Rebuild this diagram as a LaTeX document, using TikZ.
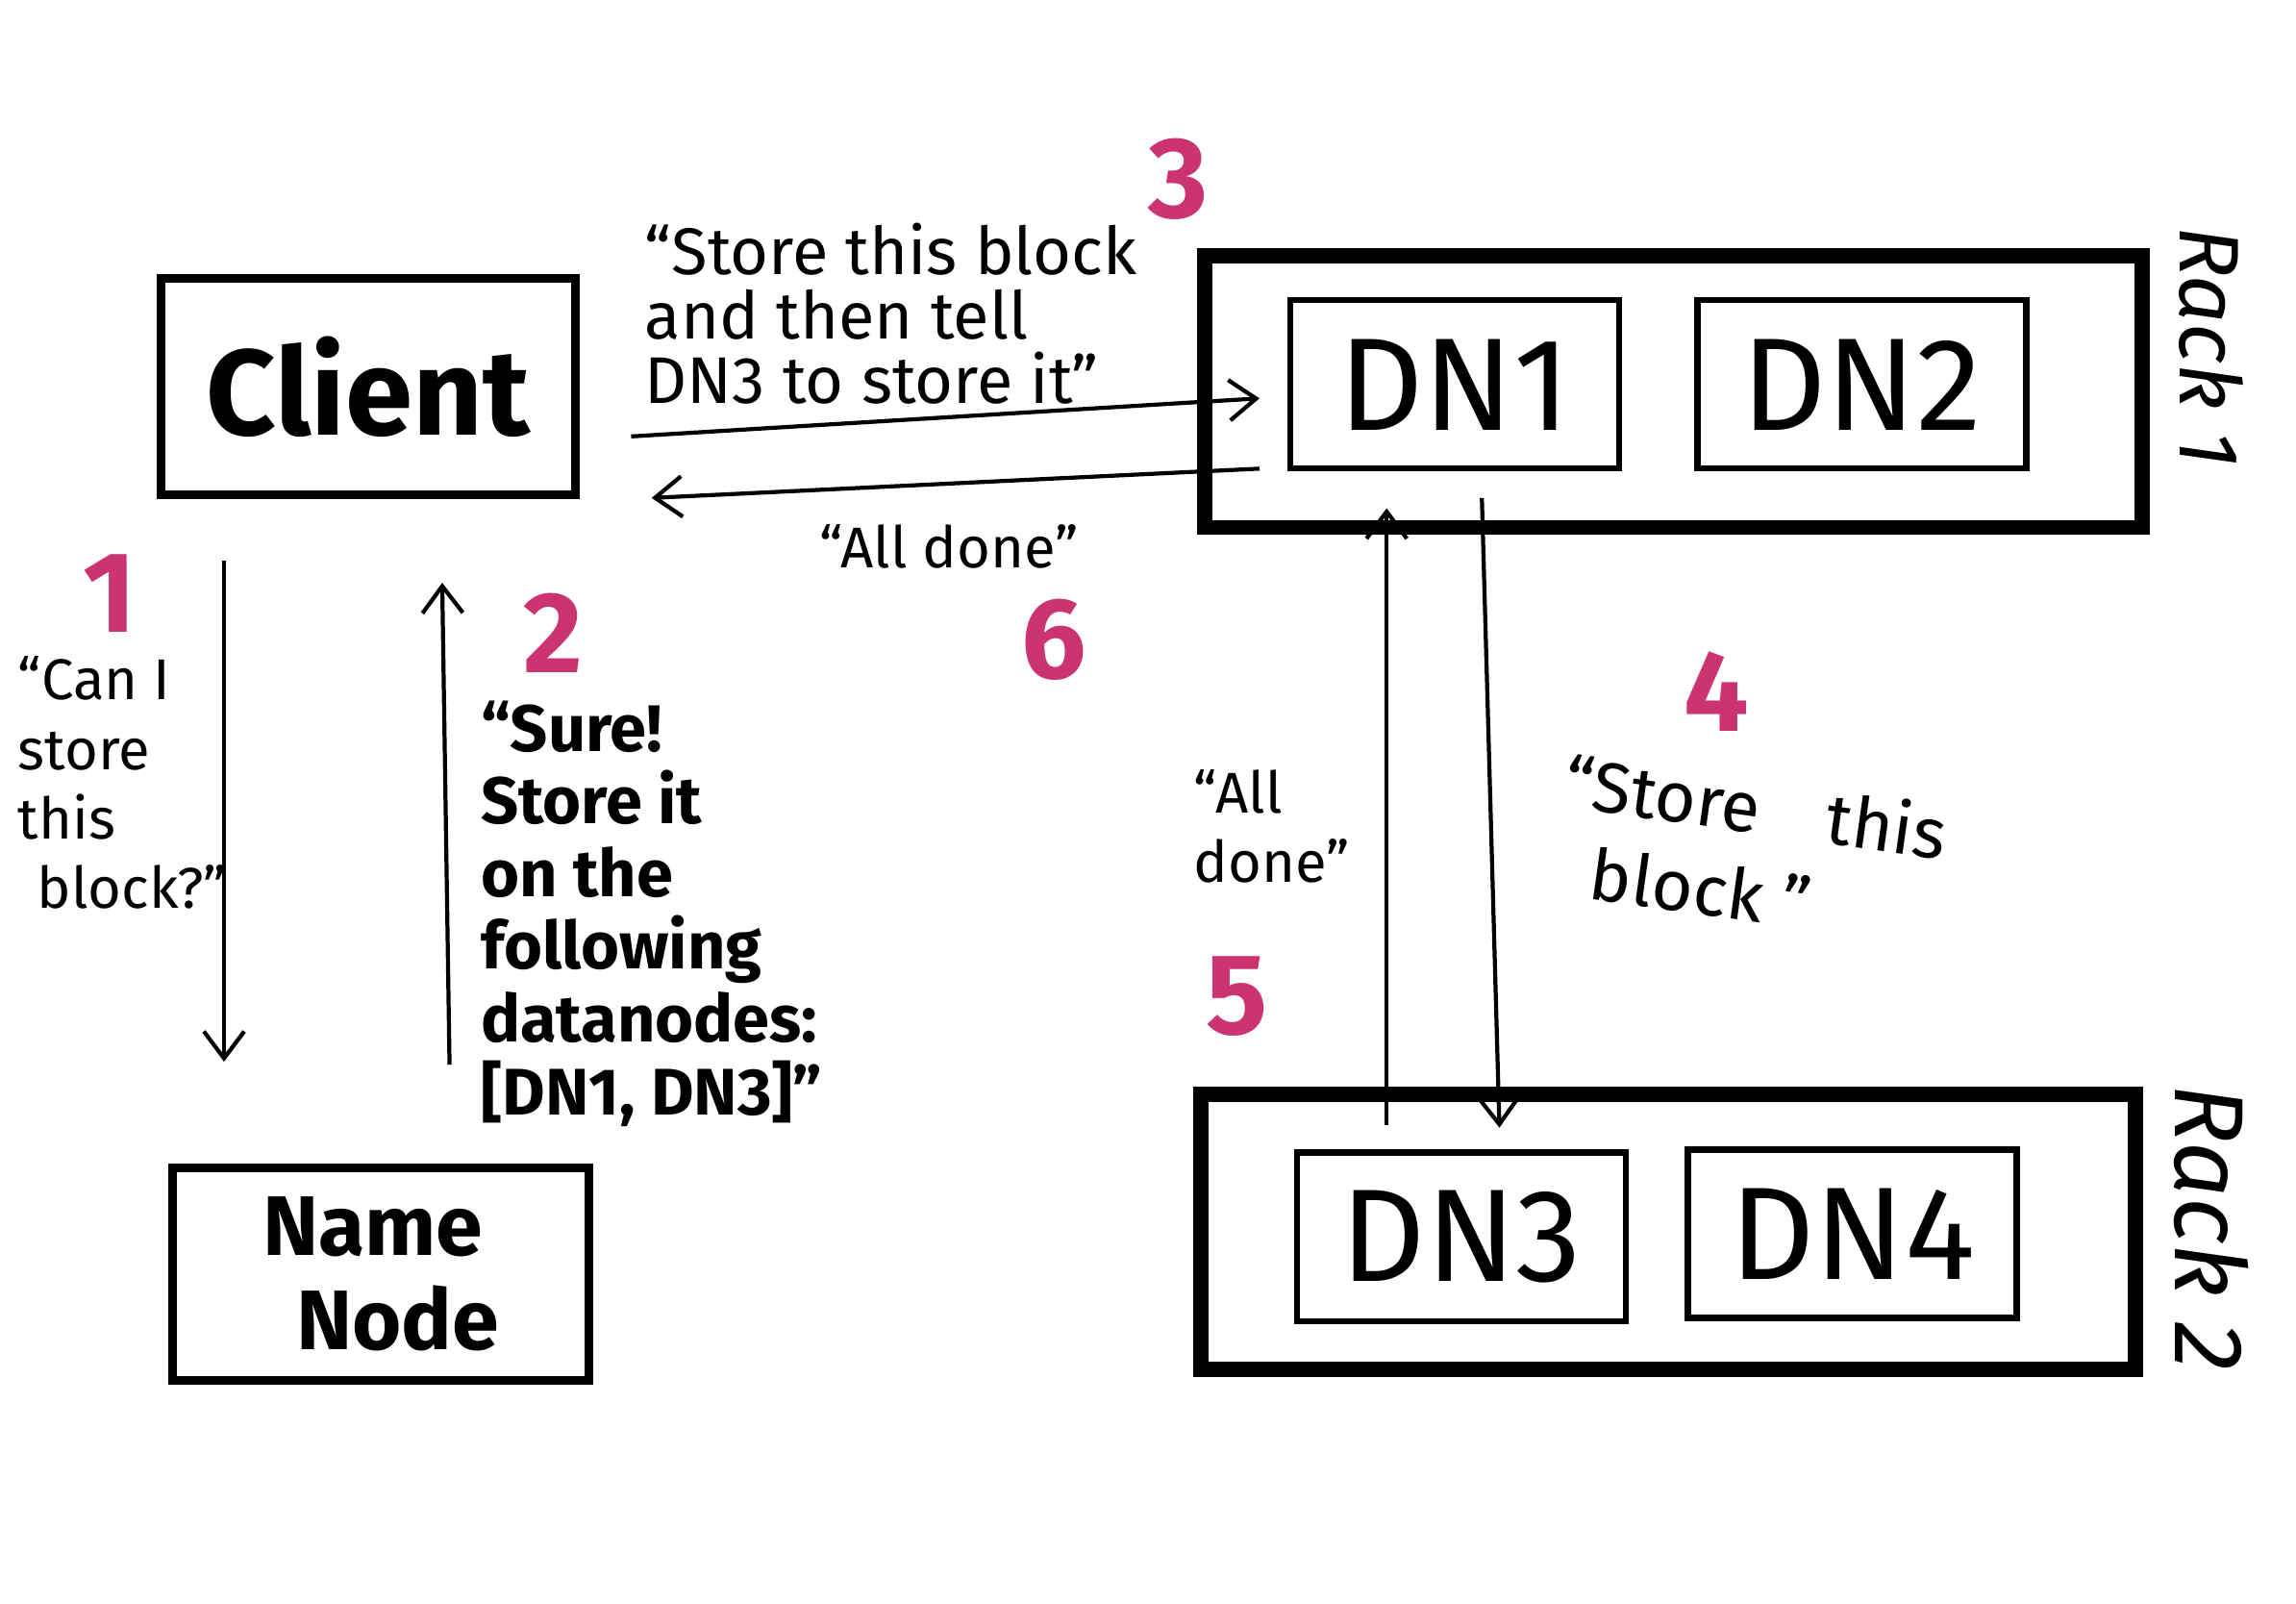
\documentclass[tikz,border=0pt]{standalone}
\usepackage{fontspec}
\setmainfont{Fira Sans}
\usetikzlibrary{arrows.meta}
\definecolor{stepnum}{HTML}{CC3371}

\begin{document}
\begin{tikzpicture}[x=0.01523cm, y=-0.01523cm,
		box/.style={draw, line width=2.6pt, inner sep=0pt, font=\bfseries\fontsize{36}{36}\selectfont},
		rack/.style={draw, line width=4.5pt, inner sep=0pt},
		dnbox/.style={draw, line width=1.8pt, inner sep=0pt, minimum width=3.42cm, minimum height=1.75cm, font=\fontsize{39}{39}\selectfont},
		msg/.style={-{Straight Barb[length=0.28cm, width=0.42cm]}, line width=1.2pt},
		note/.style={align=left, font=\fontsize{17}{20.5}\selectfont, inner sep=0pt},
		num/.style={text=stepnum, font=\bfseries\fontsize{34}{34}\selectfont, inner sep=0pt},
		racklabel/.style={rotate=-90, font=\itshape\fontsize{28}{28}\selectfont, inner sep=0pt}]
	\useasboundingbox (0,0) rectangle (1568,1095);

	% client and name node
	\node[box, minimum width=4.31cm, minimum height=2.25cm] (client) at (251.5,264) {Client};
	\node[box, minimum width=4.33cm, minimum height=2.21cm, align=left, font=\bfseries\fontsize{25}{28}\selectfont] (namenode) at (260,870) {Name\\\hspace*{0.35cm}Node};

	% racks
	\node[rack, minimum width=9.75cm, minimum height=2.82cm] (rack1) at (1143,267.5) {};
	\node[rack, minimum width=9.72cm, minimum height=2.86cm] (rack2) at (1139,841) {};
	\node[dnbox] (dn1) at (993.5,262.5) {DN1};
	\node[dnbox] (dn2) at (1271.5,262.5) {DN2};
	\node[dnbox] (dn3) at (998,844.5) {DN3};
	\node[dnbox] (dn4) at (1265,842.5) {DN4};
	\node[racklabel, font=\itshape\fontsize{25}{25}\selectfont] (rack1label) at (1510,237) {Rack 1};
	\node[racklabel, font=\itshape\fontsize{29}{29}\selectfont] (rack2label) at (1510,838) {Rack 2};

	% messages
	\draw[msg] ([shift={(-98.5,42)}]client.south) -- ([shift={(-107,-69.5)}]namenode.north);
	\draw[msg] ([shift={(47,-67.5)}]namenode.north) -- ([shift={(50.5,57)}]client.south);
	\draw[msg] ([shift={(35,34)}]client.east) -- ([shift={(-19,9.5)}]dn1.west);
	\draw[msg] ([shift={(18.5,18)}]dn1.south) -- ([shift={(26,-15)}]dn3.north);
	\draw[msg] ([shift={(-51,-17)}]dn3.north) -- ([shift={(-46.5,25)}]dn1.south);
	\draw[msg] ([shift={(-19,57.5)}]dn1.west) -- ([shift={(49,76)}]client.east);

	% step numbers
	\node[num] (n1) at (75,405) {1};
	\node[num] (n2) at (378,432) {2};
	\node[num] (n3) at (805,122) {3};
	\node[num] (n4) at (1172,472) {4};
	\node[num] (n5) at (845,680) {5};
	\node[num] (n6) at (720,437) {6};

	% what is said
	\node[note, anchor=north west] (asknote) at (12,448) {“Can I\\store\\this\\\hspace*{0.2cm}block?”};
	\node[note, anchor=north west, font=\bfseries\fontsize{19.5}{21.5}\selectfont] (surenote) at (328,478) {“Sure!\\Store it\\on the\\following\\datanodes:\\{}[DN1, DN3]”};
	\node[note, anchor=north west, font=\fontsize{19.5}{19}\selectfont] (storenote) at (440,152) {“Store this block\\and then tell\\DN3 to store it”};
	\node[note] (donenote) at (648,373) {“All done”};
	\node[note, anchor=north west] (donenote2) at (815,525) {“All\\done”};
	\node[note, rotate=-8, font=\fontsize{21}{26}\selectfont] (blocknote) at (1195,580) {“Store\hspace{0.7cm}this\\\hspace*{0.4cm}block ”};
\end{tikzpicture}
\end{document}
